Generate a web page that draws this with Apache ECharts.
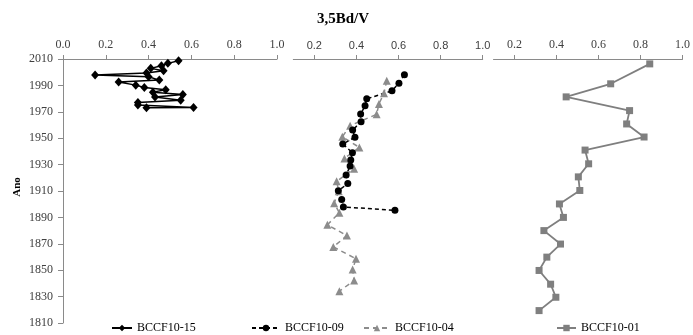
<!DOCTYPE html>
<html>
<head>
<meta charset="utf-8">
<script src="https://cdn.jsdelivr.net/npm/echarts@6/dist/echarts.min.js"></script>
<style>html,body{margin:0;padding:0;background:#fff}#c{width:693px;height:335px}</style>
</head>
<body>
<div id="c"></div>
<script>
// Data: [value, year]
const bccf1015 = [[0.54,2008.7],[0.49,2006.7],[0.46,2004.9],[0.41,2002.9],[0.47,2001.1],[0.39,1999.4],[0.15,1997.8],[0.40,1996.5],[0.45,1994.0],[0.26,1992.5],[0.34,1990.2],[0.38,1988.4],[0.48,1986.7],[0.42,1984.9],[0.56,1983.1],[0.43,1981.3],[0.55,1978.8],[0.35,1977.0],[0.35,1975.2],[0.61,1973.2],[0.39,1973.0]];
const bccf1009 = [[0.628,1998.1],[0.602,1991.7],[0.569,1985.9],[0.449,1979.8],[0.441,1974.5],[0.420,1968.4],[0.422,1962.5],[0.382,1956.2],[0.393,1950.7],[0.335,1945.6],[0.381,1939.0],[0.373,1933.4],[0.370,1928.9],[0.351,1922.1],[0.359,1915.7],[0.314,1910.1],[0.330,1903.5],[0.338,1897.9],[0.583,1895.4]];
const bccf1004 = [[0.544,1993.5],[0.531,1984.1],[0.507,1976.0],[0.496,1968.1],[0.370,1959.5],[0.333,1951.1],[0.414,1943.0],[0.343,1934.7],[0.389,1926.8],[0.306,1917.3],[0.316,1909.9],[0.294,1900.8],[0.319,1893.5],[0.262,1884.4],[0.355,1876.2],[0.290,1867.6],[0.398,1858.7],[0.382,1850.6],[0.389,1842.2],[0.319,1834.1]];
const bccf1001 = [[0.844,2006.3],[0.658,1991.2],[0.446,1981.3],[0.748,1970.9],[0.734,1960.8],[0.817,1950.9],[0.536,1941.0],[0.553,1930.6],[0.504,1920.7],[0.511,1910.4],[0.414,1900.2],[0.433,1890.0],[0.340,1880.0],[0.419,1869.8],[0.354,1859.9],[0.317,1849.8],[0.372,1839.4],[0.397,1829.5],[0.317,1819.4]];
const xTicks = [0.2,0.4,0.6,0.8,1.0];
const titleText = '3,5Bd/V';
const yName = 'Ano';

const axisCol = '#8a8a8a';
const serif = 'Liberation Serif';
const labCol = '#404040';

function xAx(grid, min, custom, font, size) {
  const a = {
    type:'value', gridIndex:grid, position:'top', min:min, max:1.0,
    axisLine:{show:true,lineStyle:{color:axisCol,width:1}},
    axisTick:{show:true,inside:false,length:4,lineStyle:{color:axisCol}},
    splitLine:{show:false},
    axisLabel:{show:true,margin:8,color:labCol,fontFamily:font,fontSize:size,
      formatter:v=>v.toFixed(1),showMinLabel:true,showMaxLabel:true}
  };
  if (custom) {
    a.axisLabel.customValues = xTicks;
    a.axisTick.customValues = xTicks;
  } else {
    a.interval = 0.2;
  }
  return a;
}
function yAx(grid, show) {
  return {
    type:'value', gridIndex:grid, min:1810, max:2010, interval:20,
    show:show,
    axisLine:{show:true,onZero:false,lineStyle:{color:axisCol,width:1}},
    axisTick:{show:true,length:5,lineStyle:{color:axisCol}},
    splitLine:{show:false},
    axisLabel:{margin:10,color:labCol,fontFamily:serif,fontSize:12,formatter:v=>String(v)}
  };
}

const chart = echarts.init(document.getElementById('c'), null, {renderer:'canvas'});
chart.setOption({
  animation:false,
  backgroundColor:'#fff',
  grid:[
    {left:63, top:59, width:214, height:264},
    {left:293.3, top:59, width:189.4, height:264},
    {left:493.5, top:59, width:193.2, height:264}
  ],
  xAxis:[
    xAx(0, 0, false, serif, 12),
    xAx(1, 0.1, true, 'Liberation Sans', 11),
    xAx(2, 0.1, true, serif, 12)
  ],
  yAxis:[yAx(0,true), yAx(1,false), yAx(2,false)],
  graphic:[
    {type:'text', left:343-26, top:12, style:{text:titleText, font:'bold 15px "Liberation Serif"', fill:'#000'}},
    {type:'text', x:17, y:187, rotation:Math.PI/2, style:{text:yName, font:'bold 11px "Liberation Serif"', fill:'#000', align:'center', verticalAlign:'middle'}}
  ],
  legend:[
    {data:['BCCF10-15'], left:111, top:322, padding:0, itemWidth:20, itemHeight:8, textStyle:{fontFamily:serif,fontSize:12,color:'#000'}},
    {data:['BCCF10-09'], left:251, top:322, padding:0, itemWidth:28, itemHeight:8, textStyle:{fontFamily:serif,fontSize:12,color:'#000'}},
    {data:['BCCF10-04'], left:363, top:322, padding:0, itemWidth:26, itemHeight:8, textStyle:{fontFamily:serif,fontSize:12,color:'#000'}},
    {data:['BCCF10-01'], left:556, top:322, padding:0, itemWidth:19, itemHeight:8, textStyle:{fontFamily:serif,fontSize:12,color:'#000'}}
  ],
  series:[
    {name:'BCCF10-15', type:'line', xAxisIndex:0, yAxisIndex:0, data:bccf1015,
     symbol:'diamond', symbolSize:[8,9], lineStyle:{color:'#000',width:1.5},
     itemStyle:{color:'#000'}},
    {name:'BCCF10-04', type:'line', xAxisIndex:1, yAxisIndex:1, data:bccf1004,
     symbol:'triangle', symbolSize:8, lineStyle:{color:'#8c8c8c',width:1.5,type:[5,4]},
     itemStyle:{color:'#8c8c8c'}},
    {name:'BCCF10-09', type:'line', xAxisIndex:1, yAxisIndex:1, data:bccf1009,
     symbol:'circle', symbolSize:7, lineStyle:{color:'#000',width:1.5,type:[4,3]},
     itemStyle:{color:'#000'}},
    {name:'BCCF10-01', type:'line', xAxisIndex:2, yAxisIndex:2, data:bccf1001,
     symbol:'rect', symbolSize:7, lineStyle:{color:'#7f7f7f',width:1.8},
     itemStyle:{color:'#7f7f7f'}}
  ]
});
</script>
</body>
</html>
